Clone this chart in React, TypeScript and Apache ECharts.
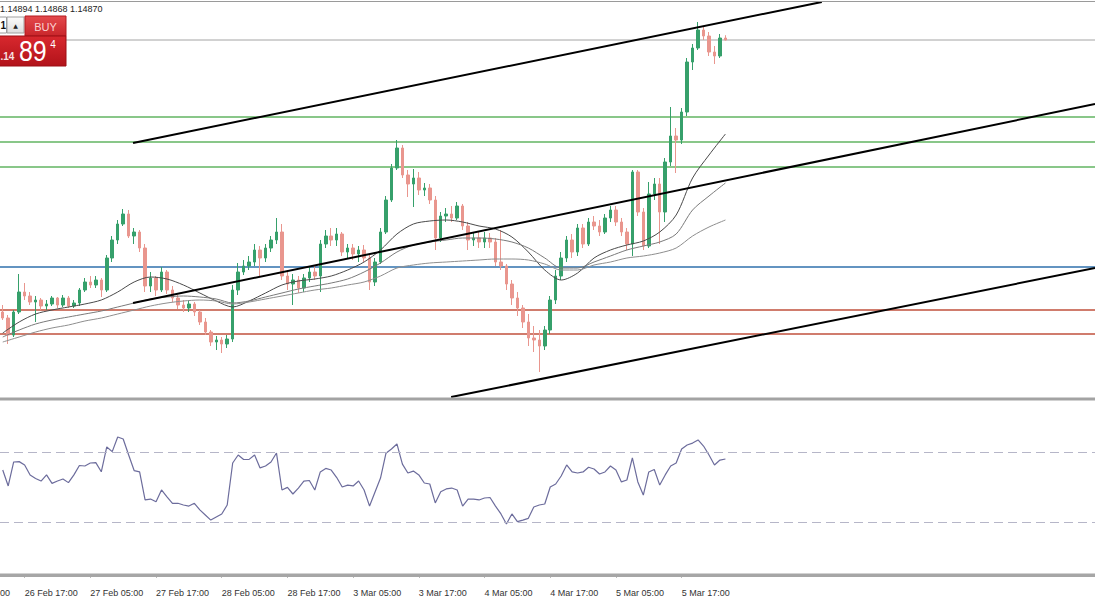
import React, { useEffect, useRef } from 'react';
import * as echarts from 'echarts';

// ---- x axis (H1 bars) ----
const slotCount = 200;
const firstLabelBar = 4;
const labelEvery = 12;
const timeLabels = ['26 Feb 17:00', '27 Feb 05:00', '27 Feb 17:00', '28 Feb 05:00', '28 Feb 17:00', '3 Mar 05:00', '3 Mar 17:00', '4 Mar 05:00', '4 Mar 17:00', '5 Mar 05:00', '5 Mar 17:00'];
const leadLabelTail = '00';

// ---- candles ----
const openP = [1.1351,1.1348,1.13395,1.1351,1.1361,1.1359,1.1356,1.1357,1.1354,1.1355,
1.1358,1.13545,1.1358,1.1354,1.13555,1.1362,1.1366,1.13645,1.1367,1.1362,
1.1378,1.1387,1.1395,1.14,1.1389,1.1391,1.1383,1.1364,1.1368,1.1362,
1.1371,1.1362,1.1358,1.13545,1.1353,1.1355,1.1351,1.1346,1.1341,1.1336,
1.1337,1.1335,1.13375,1.1362,1.1371,1.1374,1.1376,1.1382,1.1378,1.1383,
1.1387,1.1391,1.1369,1.1365,1.1367,1.1363,1.1368,1.1371,1.1369,1.1385,
1.1389,1.1387,1.139,1.1381,1.1383,1.138,1.1382,1.1378,1.1366,1.1376,
1.1391,1.1407,1.1423,1.1433,1.14195,1.1415,1.1418,1.1412,1.1413,1.1407,
1.1388,1.1399,1.14,1.1398,1.1404,1.1394,1.1387,1.1388,1.1386,1.1388,
1.1386,1.1376,1.1374,1.1365,1.1358,1.1353,1.1346,1.1338,1.1337,1.1334,
1.1342,1.1357,1.1369,1.1378,1.1387,1.1381,1.1393,1.1385,1.1396,1.1394,
1.1391,1.1398,1.1402,1.1396,1.1391,1.1385,1.1421,1.1401,1.1384,1.141,
1.1415,1.1401,1.1426,1.1439,1.1437,1.1451,1.1476,1.1483,1.1492,1.1489,
1.1481,1.1479,1.1488];
const closeP = [1.1348,1.13395,1.1351,1.1361,1.1359,1.1356,1.1357,1.1354,1.1355,1.1358,
1.13545,1.1358,1.1354,1.13555,1.1362,1.1366,1.13645,1.1367,1.1362,1.1378,
1.1387,1.1395,1.14,1.1389,1.1391,1.1383,1.1364,1.1368,1.1362,1.1371,
1.1362,1.1358,1.13545,1.1353,1.1355,1.1351,1.1346,1.1341,1.1336,1.1337,
1.1335,1.13375,1.1362,1.1371,1.1374,1.1376,1.1382,1.1378,1.1383,1.1387,
1.1391,1.1369,1.1365,1.1367,1.1363,1.1368,1.1371,1.1369,1.1385,1.1389,
1.1387,1.139,1.1381,1.1383,1.138,1.1382,1.1378,1.1366,1.1376,1.1391,
1.1407,1.1423,1.1433,1.14195,1.1415,1.1418,1.1412,1.1413,1.1407,1.1388,
1.1399,1.14,1.1398,1.1404,1.1394,1.1387,1.1388,1.1386,1.1388,1.1386,
1.1376,1.1374,1.1365,1.1358,1.1353,1.1346,1.1338,1.1337,1.1334,1.1342,
1.1357,1.1369,1.1378,1.1387,1.1381,1.1393,1.1385,1.1396,1.1394,1.1391,
1.1398,1.1402,1.1396,1.1391,1.1385,1.1421,1.1401,1.1384,1.141,1.1415,
1.1401,1.1426,1.1439,1.1437,1.1451,1.1476,1.1483,1.1492,1.1489,1.1481,
1.1479,1.1488,1.1487];
const highP = [1.13545,1.13495,1.1352,1.137,1.13655,1.1361,1.1359,1.1358,1.1357,1.1359,
1.13585,1.13595,1.1359,1.1357,1.1363,1.1368,1.1369,1.1369,1.1368,1.13795,
1.1389,1.1397,1.14025,1.1402,1.1393,1.1392,1.1385,1.1371,1.1369,1.13735,
1.1372,1.1364,1.13595,1.1357,1.1357,1.1356,1.1352,1.1348,1.1342,1.1339,
1.13385,1.13395,1.13645,1.13755,1.1377,1.1379,1.1385,1.1384,1.1385,1.1389,
1.1398,1.1395,1.1372,1.137,1.1369,1.137,1.13735,1.1374,1.1387,1.1392,
1.1393,1.1393,1.1391,1.1385,1.1385,1.1384,1.13845,1.138,1.1378,1.1393,
1.1409,1.1425,1.1437,1.14345,1.1422,1.14225,1.1421,1.14155,1.1415,1.1409,
1.1401,1.1403,1.1404,1.1406,1.1405,1.1396,1.1391,1.1391,1.1391,1.13905,
1.1388,1.1392,1.1375,1.1367,1.1361,1.13545,1.135,1.1344,1.1342,1.1344,
1.1359,1.1372,1.1381,1.1389,1.139,1.1395,1.1395,1.1398,1.1399,1.1397,
1.14,1.1404,1.1404,1.1398,1.1393,1.1422,1.1422,1.1403,1.1416,1.1418,
1.1418,1.1428,1.14535,1.1443,1.1453,1.1478,1.1485,1.1496,1.1494,1.1491,
1.1484,1.149,1.14894];
const lowP = [1.1347,1.1335,1.13385,1.135,1.1357,1.13545,1.1346,1.1352,1.1352,1.1354,
1.1353,1.13535,1.1353,1.1353,1.1354,1.1361,1.1363,1.1363,1.13585,1.1361,
1.1376,1.1385,1.1394,1.1388,1.1385,1.1381,1.1361,1.1361,1.1359,1.1361,
1.136,1.1356,1.13525,1.1351,1.1351,1.1349,1.13445,1.13395,1.1334,1.1332,
1.13305,1.1333,1.1336,1.13595,1.13695,1.1372,1.1374,1.1369,1.1376,1.1381,
1.1385,1.1367,1.1362,1.13545,1.13605,1.1361,1.1366,1.1367,1.1361,1.1383,
1.1384,1.1384,1.1379,1.1378,1.1377,1.1376,1.1376,1.1362,1.1364,1.1375,
1.139,1.1406,1.1422,1.1418,1.14085,1.14035,1.14095,1.1409,1.1405,1.1382,
1.1386,1.1396,1.1396,1.1397,1.1392,1.1382,1.1384,1.1383,1.1383,1.1383,
1.1374,1.1372,1.1362,1.13545,1.1349,1.1343,1.1334,1.1331,1.1321,1.1332,
1.134,1.1355,1.1367,1.1376,1.1378,1.1379,1.1383,1.1384,1.1392,1.1389,
1.139,1.1396,1.1394,1.1389,1.1382,1.1379,1.1399,1.1382,1.1383,1.1407,
1.1385,1.1396,1.1424,1.14205,1.1435,1.1449,1.1472,1.1482,1.1487,1.1479,
1.1475,1.1478,1.14868];

// ---- moving averages, read every 3 bars ----
const maBars = [0,3,6,9,12,15,18,21,24,27,30,33,36,39,42,45,48,51,54,57,60,63,66,69,72,75,78,81,84,87,90,93,96,99,102,105,108,111,114,117,120,123,126,129,132];
const maFast = [1.13405,1.1346,1.135,1.1352,1.13535,1.1355,1.1357,1.1361,1.1366,1.13685,1.13675,1.13645,1.13605,1.13565,1.13535,1.13565,1.13605,1.13645,1.13665,1.13675,1.1369,1.1372,1.1376,1.1382,1.139,1.1395,1.13965,1.1397,1.1396,1.1394,1.13925,1.13885,1.1381,1.1372,1.1367,1.13705,1.1378,1.1382,1.13845,1.13865,1.1391,1.13995,1.1418,1.14295,1.144];
const maMid = [1.13385,1.1342,1.1345,1.1347,1.13485,1.135,1.13515,1.13535,1.13555,1.13575,1.13585,1.1359,1.13585,1.13575,1.13555,1.13565,1.13585,1.13605,1.13625,1.1364,1.13655,1.13675,1.1371,1.13755,1.1381,1.13845,1.1386,1.1387,1.1388,1.1388,1.13875,1.1386,1.1383,1.1378,1.1373,1.1373,1.1376,1.1379,1.1382,1.1384,1.1386,1.139,1.1402,1.1409,1.14155];
const maSlow = [1.1336,1.13385,1.1341,1.1343,1.13445,1.13465,1.1348,1.135,1.1352,1.1354,1.13555,1.13565,1.1357,1.13565,1.1355,1.1356,1.13575,1.1359,1.13605,1.1362,1.1363,1.13645,1.1366,1.1369,1.1373,1.13745,1.13755,1.1376,1.13765,1.1377,1.13775,1.13775,1.1377,1.1375,1.1372,1.1372,1.13745,1.1376,1.1378,1.1379,1.13805,1.1383,1.1389,1.13935,1.1397];

// ---- RSI ----
const rsi = [59.7,50.6,64.3,64.5,62.6,56.9,54.9,53.4,56.9,52.1,
53.4,54.6,52.5,56.9,62.3,62,63.7,63.9,58.7,72.9,
70.2,78.6,77.4,68.3,59.4,58.6,42.6,43.1,41.6,48.3,
44.3,40.6,40.7,39.7,39.1,40.7,36.9,34,31.1,32.9,
34.6,39.7,63.7,68.3,65.7,65.8,68.3,60.9,62,64.3,
69.4,48.3,49.8,46,49.4,53.4,53.7,48.3,58.6,60.6,
59.7,55.4,50,51.1,50.6,53.4,48.3,39.1,47.1,55.1,
69.3,71.7,74.6,63.1,58,59.1,56.9,52.3,51.7,40.9,
47.3,48.9,49.4,48.3,39.1,43.1,43.1,42.6,43.7,44,
39.1,34.6,28.9,34.6,30.2,31.1,32.1,38.6,39.7,40.3,
50,51.7,56.3,62.6,58.6,58,58.6,61.3,60.3,57.4,
58.6,62,59.7,52.9,54,66.6,52.9,45.4,58.6,60,
51.1,56.9,62,63.7,71.7,74,75.1,76.9,73.4,68.3,
62.6,65.4,66];
const rsiLevels = [70, 30];

// ---- drawn objects ----
const greenLevels = [1.14485, 1.1436, 1.14235];
const blueLevels = [1.13735];
const redLevels = [1.1352, 1.134];
const trendLines = [
  [[23.8, 1.14355], [149.6, 1.1506]],
  [[23.8, 1.13555], [199.5, 1.1455]],
  [[81.9, 1.13085], [199.5, 1.1373]],
];
const askPrice = '1.14894';
const priceMin = 1.13085;
const priceMax = 1.1507;

const labelAt = (i: number) => {
  const k = (i - firstLabelBar) / labelEvery;
  return Number.isInteger(k) && k >= 0 && k < timeLabels.length ? timeLabels[k] : '';
};

export default function App() {
  const ref = useRef<HTMLDivElement>(null);
  useEffect(() => {
    if (!ref.current) return;
    const chart = echarts.init(ref.current, null, { renderer: 'svg' });
    const cats = Array.from({ length: slotCount }, (_, i) => 'b' + i);
    const candles = openP.map((o, i) => [o, closeP[i], lowP[i], highP[i]]);
    const last = closeP.length - 1;
    const headText = `${highP[last].toFixed(5)} ${lowP[last].toFixed(5)} ${closeP[last].toFixed(5)}`;
    const font = 'Liberation Sans, Arial, sans-serif';
    const hLine = (v: number, color: string, width: number, z: number) => ({
      type: 'line', xAxisIndex: 2, yAxisIndex: 0, symbol: 'none', silent: true,
      data: [[-0.5, v], [slotCount - 0.5, v]], lineStyle: { color, width }, z,
    });
    const grad = (a: string, b: string) => new echarts.graphic.LinearGradient(0, 0, 0, 1, [{ offset: 0, color: a }, { offset: 1, color: b }]);
    const maSeries = [maFast, maMid, maSlow].map((arr, k) => ({
      type: 'line', xAxisIndex: 0, yAxisIndex: 0, symbol: 'none', smooth: 0.3,
      data: maBars.map((b, j) => [b, arr[j]]),
      lineStyle: { color: ['#4a4a4a', '#7a7a7a', '#8e8e8e'][k], width: 1 },
      z: 3,
    }));
    const tlSeries = trendLines.map((seg) => ({
      type: 'line', xAxisIndex: 2, yAxisIndex: 0, symbol: 'none', data: seg,
      lineStyle: { color: '#000', width: 2 }, z: 4,
    }));
    const pipBig = askPrice.slice(4, 6);
    const pipSmall = askPrice.slice(6);
    const pipHead = askPrice.slice(1, 4);

    chart.setOption({
      animation: false,
      backgroundColor: '#ffffff',
      grid: [
        { left: 0, right: 0, top: 0, height: 397 },
        { left: 0, right: 0, top: 399.5, height: 175 },
      ],
      xAxis: [
        { type: 'category', gridIndex: 0, data: cats, show: false, boundaryGap: true },
        {
          type: 'category', gridIndex: 1, data: cats, boundaryGap: true, position: 'bottom', offset: 9.5,
          axisLine: { show: true, lineStyle: { color: '#8c8c8c', width: 1 } },
          axisTick: { show: true, alignWithLabel: true, length: 3, interval: (i: number) => labelAt(i) !== '', lineStyle: { color: '#777' } },
          axisLabel: {
            show: true, interval: (i: number) => labelAt(i) !== '', formatter: (_v: string, i: number) => labelAt(i),
            align: 'left', margin: 4, fontSize: 9, color: '#333', fontFamily: font,
          },
        },
        { type: 'value', gridIndex: 0, min: -0.5, max: slotCount - 0.5, show: false },
      ],
      yAxis: [
        { type: 'value', gridIndex: 0, min: priceMin, max: priceMax, show: false },
        { type: 'value', gridIndex: 1, min: 0, max: 100, show: false },
      ],
      series: [
        ...greenLevels.map((v) => hLine(v, '#62b462', 1.5, 1)),
        ...blueLevels.map((v) => hLine(v, '#2f70ad', 1.5, 1)),
        ...redLevels.map((v) => hLine(v, '#c0503c', 1.5, 1)),
        hLine(closeP[last], '#a4a4a4', 1, 1),
        {
          type: 'candlestick', xAxisIndex: 0, yAxisIndex: 0, data: candles, barWidth: 3, z: 2,
          itemStyle: { color: '#36a06b', color0: '#e9968e', borderColor: '#36a06b', borderColor0: '#e9968e', borderWidth: 1 },
        },
        ...maSeries,
        ...tlSeries,
        {
          type: 'line', xAxisIndex: 1, yAxisIndex: 1, data: rsi, symbol: 'none',
          lineStyle: { color: '#6c6c9c', width: 1.2 },
          markLine: {
            silent: true, symbol: ['none', 'none'], label: { show: false }, animation: false,
            data: rsiLevels.map((v) => ({ yAxis: v })),
            lineStyle: { color: '#b6b6c8', width: 1.2, type: [9, 5] },
          },
        },
      ],
      graphic: [
        { type: 'rect', z: 100, shape: { x: 0, y: 1, width: 1095, height: 1 }, style: { fill: '#9a9a9a' } },
        { type: 'rect', z: 100, shape: { x: 0, y: 397.5, width: 1095, height: 3 }, style: { fill: '#a3a3a3' } },
        { type: 'rect', z: 100, shape: { x: 0, y: 573.5, width: 1095, height: 3.5 }, style: { fill: '#a6a6a6' } },
        { type: 'text', z: 100, x: 0, y: 8.5, style: { text: headText, fontSize: 9, fill: '#222', fontFamily: font, verticalAlign: 'middle' } },
        { type: 'text', z: 100, x: 0, y: 592.5, style: { text: leadLabelTail, fontSize: 9, fill: '#333', fontFamily: font, verticalAlign: 'middle' } },
        // one-click trading widget
        { type: 'rect', z: 101, shape: { x: -1, y: 17, width: 7.5, height: 16 }, style: { fill: '#fff', stroke: '#9a9a9a', lineWidth: 1 } },
        { type: 'text', z: 102, x: 0.5, y: 25, style: { text: '1', fontSize: 10, fontWeight: 'bold', fill: '#111', align: 'left', verticalAlign: 'middle', fontFamily: font } },
        { type: 'rect', z: 101, shape: { x: 7, y: 17, width: 17, height: 16 }, style: { fill: grad('#fbfbfb', '#dedede'), stroke: '#a0a0a0', lineWidth: 1 } },
        { type: 'text', z: 102, x: 15.5, y: 25, style: { text: '▲', fontSize: 6, fill: '#222', align: 'center', verticalAlign: 'middle', fontFamily: 'DejaVu Sans' } },
        { type: 'rect', z: 101, shape: { x: 25, y: 16, width: 41, height: 20 }, style: { fill: grad('#e4494c', '#c9262b'), stroke: '#b21b20', lineWidth: 1 } },
        { type: 'text', z: 102, x: 45.5, y: 26.5, style: { text: 'BUY', fontSize: 11, fill: '#fbd2d2', align: 'center', verticalAlign: 'middle', fontFamily: font } },
        { type: 'rect', z: 101, shape: { x: -1, y: 36, width: 67, height: 30 }, style: { fill: grad('#d8282e', '#b2131a'), stroke: '#9c0f14', lineWidth: 1 } },
        { type: 'text', z: 102, x: 0.5, y: 56, style: { text: pipHead, fontSize: 10, fontWeight: 'bold', fill: '#f6e0e0', align: 'left', verticalAlign: 'middle', fontFamily: font } },
        { type: 'text', z: 102, x: 19, y: 51.5, scaleX: 0.86, style: { text: pipBig, fontSize: 29, fill: '#ffffff', align: 'left', verticalAlign: 'middle', fontFamily: font } },
        { type: 'text', z: 102, x: 53, y: 44, style: { text: pipSmall, fontSize: 10, fill: '#ffffff', align: 'center', verticalAlign: 'middle', fontFamily: font } },
      ],
    });
    return () => chart.dispose();
  }, []);
  return <div ref={ref} style={{ position: 'fixed', left: 0, top: 0, width: 1095, height: 600, background: '#fff' }} />;
}
